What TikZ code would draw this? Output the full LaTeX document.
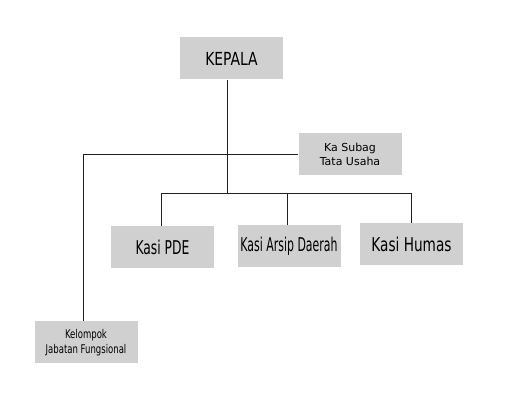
\documentclass[tikz,border=0pt]{standalone}
\usepackage{fontspec}
\setmainfont{DejaVu Sans}
\newfontfamily\kepalafont[FakeStretch=0.86]{DejaVu Sans Condensed}
\newfontfamily\pdefont[FakeStretch=0.72]{DejaVu Sans Condensed}
\newfontfamily\arsipfont[FakeStretch=0.64]{DejaVu Sans Condensed}
\newfontfamily\humasfont[FakeStretch=0.8]{DejaVu Sans Condensed}
\newfontfamily\fungsifont[FakeStretch=0.79]{DejaVu Sans Condensed}
\usepackage{xcolor}
\definecolor{orgBox}{HTML}{D0D0D0}
\definecolor{orgLine}{HTML}{202020}
\usepackage{tikz}
\usetikzlibrary{positioning,calc}
\tikzset{
    unit/.style={
        fill=orgBox,
        rectangle,
        align=center,
        minimum height=42pt,
        minimum width=103pt,
        inner sep=0pt,
        font=\kepalafont\fontsize{18}{20}\selectfont
    },
    smallunit/.style={
        unit,
        font=\fontsize{11}{14}\selectfont
    },
    orgline/.style={
        line width=0.9pt,
        color=orgLine
    }
}
\begin{document}
\begin{tikzpicture}[x=1pt,y=-1pt]
    \useasboundingbox (0,0) rectangle (520,403);
    \node[unit] (kepala) at (231.5,58.5) {KEPALA};
    \node[smallunit] (subag) at (350,154) {Ka Subag\\Tata Usaha};
    \node[unit, font=\pdefont\fontsize{19}{21}\selectfont] (pde) at (162.5,247) {Kasi PDE};
    \node[unit, font=\arsipfont\fontsize{19}{21}\selectfont] (arsip) at (289,246) {Kasi Arsip Daerah};
    \node[unit, font=\humasfont\fontsize{19}{21}\selectfont] (humas) at (411.5,244.5) {Kasi Humas};
    \node[unit, font=\fungsifont\fontsize{12}{15}\selectfont] (kelompok) at (86,342.5) {Kelompok\\Jabatan Fungsional};
    \coordinate (bus) at (227,193);

    \draw[orgline] (kepala.south -| bus) -- (bus);
    \draw[orgline] ([xshift=-1.5pt]pde.north) |- (bus);
    \draw[orgline] (bus) -| ([xshift=-0.5pt]humas.north);
    \draw[orgline] ([xshift=-2pt]arsip.north) -- ([xshift=-2pt]arsip.north |- bus);
    \draw[orgline] (subag.west) -| ([xshift=-3pt]kelompok.north);
\end{tikzpicture}
\end{document}
